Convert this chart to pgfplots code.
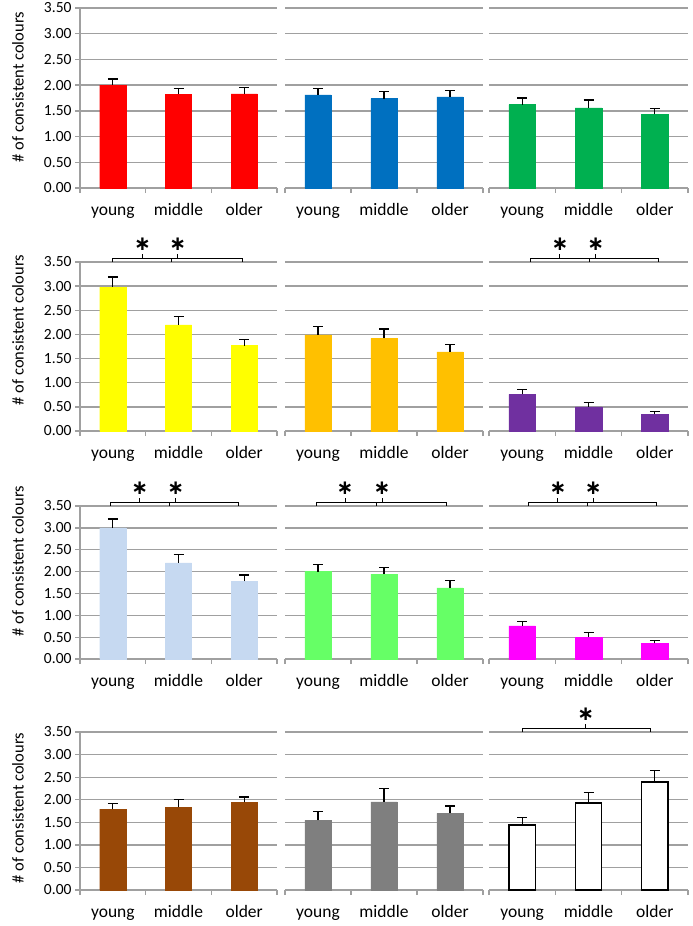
\documentclass[border=0pt]{standalone}
\usepackage{fontspec}
\setmainfont{Carlito}
\newfontfamily\djv{DejaVu Sans}
\usepackage{pgfplots}
\pgfplotsset{compat=1.18}

\definecolor{gridgray}{HTML}{A0A0A0}
\definecolor{cred}{HTML}{FF0000}
\definecolor{cblue}{HTML}{0070C0}
\definecolor{cgreen}{HTML}{00B050}
\definecolor{cyellow}{HTML}{FFFF00}
\definecolor{corange}{HTML}{FFC000}
\definecolor{cpurple}{HTML}{7030A0}
\definecolor{clblue}{HTML}{C6D9F1}
\definecolor{clgreen}{HTML}{66FF66}
\definecolor{cmagenta}{HTML}{FF00FF}
\definecolor{cbrown}{HTML}{984807}
\definecolor{cgray}{HTML}{7F7F7F}

\pgfplotsset{
  panel/.style={
    scale only axis, clip=false,
    xmin=-0.5, xmax=2.5, ymin=0, ymax=3.5,
    axis x line*=bottom, axis y line*=left,
    axis line style={gridgray, line width=1.3pt},
    tick align=outside, major tick length=5pt,
    xtick={-0.5,0.5,1.5,2.5}, xticklabels={},
    tick style={gridgray, line width=1.3pt},
    ytick={0,0.5,...,3.5},
    ymajorgrids, grid style={gridgray, line width=1.3pt},
    extra x ticks={0,1,2}, extra x tick labels={young,middle,older},
    extra x tick style={major tick length=0pt, tick style={draw=none},
      xticklabel style={anchor=base, yshift=-27pt, font=\fontsize{17.5}{19}\selectfont}},
    /pgf/number format/assume math mode=true,
    yticklabel style={font=\fontsize{15.5}{17}\selectfont, /pgf/number format/.cd, fixed, fixed zerofill, precision=2},
  },
  first/.style={panel},
  other/.style={panel, yticklabels={}, y axis line style={draw=none}, ytick style={draw=none}},
  errs/.style={
    error bars/y dir=plus, error bars/y explicit,
    error bars/error bar style={black, line width=1.3pt},
    error bars/error mark options={black, rotate=90, mark size=5pt, line width=1.3pt}},
  bars/.style={ybar, bar width=0.4, fill=#1, draw=#1, errs},
  barsw/.style={ybar, bar width=0.4, fill=white, draw=black, line width=1.3pt, errs},
}

\newcommand{\brk}[3]{%
  \draw[black, line width=1pt] ([yshift=0pt]axis cs:#1,3.5) -- ([yshift=3.5pt]axis cs:#1,3.5) -- ([yshift=3.5pt]axis cs:#2,3.5) -- ([yshift=0pt]axis cs:#2,3.5);
  \draw[black, line width=1pt] ([yshift=3.5pt]axis cs:#3,3.5) -- ([yshift=8pt]axis cs:#3,3.5);
  \node[inner sep=0pt] at ([yshift=18pt]axis cs:#3,3.5) {\djv\bfseries\fontsize{20}{20}\selectfont ∗};}

\begin{document}
\begin{tikzpicture}
\useasboundingbox (0,0) rectangle (693pt,-926pt);

% ---------- Row 1 ----------
\begin{axis}[first, at={(80pt,-188pt)}, anchor=south west, width=197pt, height=180pt]
\addplot[bars=cred] coordinates {(0,2.00) +- (0,0.12) (1,1.82) +- (0,0.12) (2,1.83) +- (0,0.12)};
\end{axis}
\begin{axis}[other, at={(285pt,-188pt)}, anchor=south west, width=198pt, height=180pt]
\addplot[bars=cblue] coordinates {(0,1.81) +- (0,0.12) (1,1.74) +- (0,0.14) (2,1.77) +- (0,0.13)};
\end{axis}
\begin{axis}[other, at={(489pt,-188pt)}, anchor=south west, width=199pt, height=180pt]
\addplot[bars=cgreen] coordinates {(0,1.62) +- (0,0.13) (1,1.56) +- (0,0.15) (2,1.43) +- (0,0.12)};
\end{axis}

% ---------- Row 2 ----------
\begin{axis}[first, at={(80pt,-431pt)}, anchor=south west, width=197pt, height=169pt]
\addplot[bars=cyellow] coordinates {(0,2.98) +- (0,0.21) (1,2.20) +- (0,0.17) (2,1.77) +- (0,0.13)};
\brk{0}{0.9}{0.45}
\brk{0.9}{1.97}{0.99}
\end{axis}
\begin{axis}[other, at={(285pt,-431pt)}, anchor=south west, width=198pt, height=169pt]
\addplot[bars=corange] coordinates {(0,1.99) +- (0,0.17) (1,1.92) +- (0,0.19) (2,1.64) +- (0,0.15)};
\end{axis}
\begin{axis}[other, at={(489pt,-431pt)}, anchor=south west, width=199pt, height=169pt]
\addplot[bars=cpurple] coordinates {(0,0.76) +- (0,0.10) (1,0.50) +- (0,0.09) (2,0.35) +- (0,0.06)};
\brk{0.13}{1.01}{0.57}
\brk{1.01}{2.06}{1.11}
\end{axis}

% ---------- Row 3 ----------
\begin{axis}[first, at={(80pt,-659pt)}, anchor=south west, width=197pt, height=153pt]
\addplot[bars=clblue] coordinates {(0,3.00) +- (0,0.20) (1,2.20) +- (0,0.19) (2,1.78) +- (0,0.14)};
\brk{-0.03}{0.87}{0.41}
\brk{0.87}{1.92}{0.96}
\end{axis}
\begin{axis}[other, at={(285pt,-659pt)}, anchor=south west, width=198pt, height=153pt]
\addplot[bars=clgreen] coordinates {(0,2.00) +- (0,0.16) (1,1.94) +- (0,0.16) (2,1.63) +- (0,0.17)};
\brk{-0.03}{0.88}{0.41}
\brk{0.88}{1.94}{0.97}
\end{axis}
\begin{axis}[other, at={(489pt,-659pt)}, anchor=south west, width=199pt, height=153pt]
\addplot[bars=cmagenta] coordinates {(0,0.76) +- (0,0.10) (1,0.50) +- (0,0.10) (2,0.36) +- (0,0.06)};
\brk{0.10}{0.98}{0.54}
\brk{0.98}{2.03}{1.07}
\end{axis}

% ---------- Row 4 ----------
\begin{axis}[first, at={(80pt,-890pt)}, anchor=south west, width=197pt, height=158pt]
\addplot[bars=cbrown] coordinates {(0,1.79) +- (0,0.12) (1,1.83) +- (0,0.18) (2,1.94) +- (0,0.12)};
\end{axis}
\begin{axis}[other, at={(285pt,-890pt)}, anchor=south west, width=198pt, height=158pt]
\addplot[bars=cgray] coordinates {(0,1.54) +- (0,0.20) (1,1.95) +- (0,0.30) (2,1.70) +- (0,0.16)};
\end{axis}
\begin{axis}[other, at={(489pt,-890pt)}, anchor=south west, width=199pt, height=158pt]
\addplot[barsw] coordinates {(0,1.44) +- (0,0.17) (1,1.93) +- (0,0.23) (2,2.39) +- (0,0.25)};
\brk{0}{1.93}{0.96}
\end{axis}

% y labels
\foreach \yc in {87,330,561,808}
  \node[rotate=90, font=\fontsize{16.5}{18}\selectfont] at (18pt,-\yc pt) {\# of consistent colours};
\end{tikzpicture}
\end{document}
